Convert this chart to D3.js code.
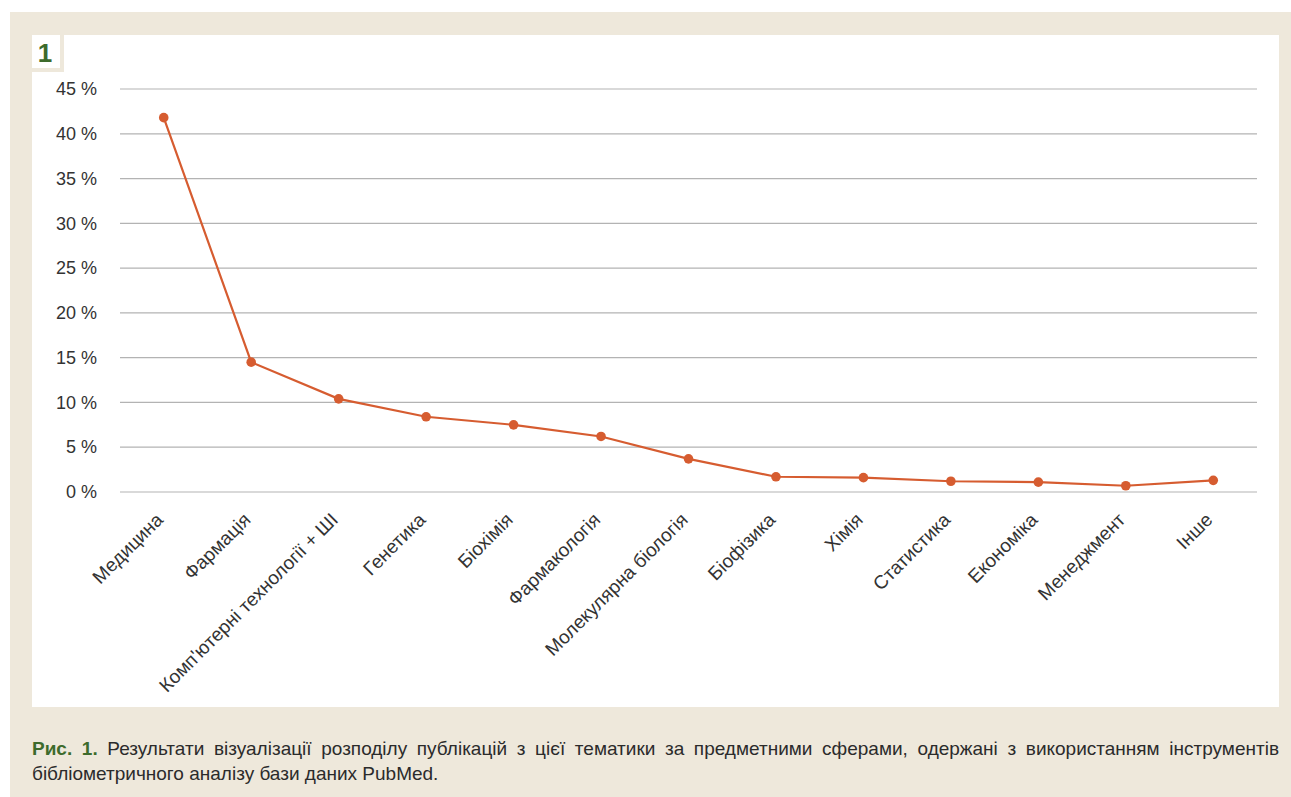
<!DOCTYPE html>
<html>
<head>
<meta charset="utf-8">
<script src="https://cdn.jsdelivr.net/npm/d3@7"></script>
<style>
  html, body { margin: 0; padding: 0; background: #ffffff; }
  #frame {
    position: absolute; left: 10px; top: 12px; width: 1281px; height: 785px;
    background: #eee8db;
  }
  .caption {
    position: absolute; left: 32px; width: 1247px;
    font-family: 'Liberation Sans', Arial, sans-serif;
    font-size: 19px; line-height: 25px; color: #2b2b2b;
    white-space: nowrap;
  }
  #cap1 { top: 736px; text-align: justify; text-align-last: justify; white-space: normal; }
  #cap2 { top: 761px; text-align: left; }
  .caption b { color: #3d6b2c; }
  svg { position: absolute; left: 0; top: 0; }
</style>
</head>
<body>
<div id="frame"></div>
<svg id="chart" width="1291" height="797"></svg>
<div class="caption" id="cap1"><b>Рис. 1.</b> Результати візуалізації розподілу публікацій з цієї тематики за предметними сферами, одержані з використанням інструментів</div>
<div class="caption" id="cap2">бібліометричного аналізу бази даних PubMed.</div>
<script>
// Share of publications by subject area, %
const categories = ["Медицина", "Фармація", "Комп'ютерні технології + ШІ", "Генетика", "Біохімія",
  "Фармакологія", "Молекулярна біологія", "Біофізика", "Хімія", "Статистика",
  "Економіка", "Менеджмент", "Інше"];
const shares = [41.8, 14.5, 10.4, 8.4, 7.5, 6.2, 3.7, 1.7, 1.6, 1.2, 1.1, 0.7, 1.3];
const yTicks = [0, 5, 10, 15, 20, 25, 30, 35, 40, 45];

const FONT = "'Liberation Sans', Arial, sans-serif";
const svg = d3.select("#chart");

// White panel with the separate number tab in its corner
svg.append("path")
  .attr("d", "M64,35 H1279 V707 H32 V72 H64 Z")
  .attr("fill", "#ffffff");
svg.append("rect").attr("x", 32).attr("y", 35).attr("width", 28).attr("height", 33).attr("fill", "#ffffff");
svg.append("text")
  .attr("x", 45).attr("y", 62)
  .attr("text-anchor", "middle")
  .style("font-family", FONT)
  .attr("font-weight", "bold").attr("font-size", 26)
  .attr("fill", "#3d6b2c")
  .text("1");

const x = d3.scalePoint().domain(categories).range([120, 1257]).padding(0.5);
const y = d3.scaleLinear().domain([0, 45]).range([492, 89]);

// Horizontal gridlines
svg.append("g")
  .selectAll("line")
  .data(yTicks)
  .join("line")
  .attr("x1", 120).attr("x2", 1257)
  .attr("y1", d => y(d)).attr("y2", d => y(d))
  .attr("stroke", "#b3b3b3").attr("stroke-width", 1.2);

// Y axis labels
const yAxis = svg.append("g")
  .attr("transform", "translate(97,0)")
  .call(d3.axisLeft(y).tickValues(yTicks).tickSize(0).tickPadding(0).tickFormat(d => d + " %"));
yAxis.select(".domain").remove();
yAxis.selectAll("text")
  .style("font-family", FONT)
  .attr("font-size", 18).attr("fill", "#333333");

// X axis labels, rotated
const xAxis = svg.append("g")
  .attr("transform", "translate(0,492)")
  .call(d3.axisBottom(x).tickSize(0).tickPadding(0));
xAxis.select(".domain").remove();
xAxis.selectAll("text")
  .style("font-family", FONT)
  .attr("font-size", 19).attr("fill", "#333333")
  .attr("text-anchor", "end")
  .attr("dy", 0)
  .attr("transform", "translate(0,29) rotate(-45)");

// Line and markers
const line = d3.line().x((d, i) => x(categories[i])).y(d => y(d));
svg.append("path")
  .datum(shares)
  .attr("d", line)
  .attr("fill", "none")
  .attr("stroke", "#d65c30")
  .attr("stroke-width", 2.2);

svg.append("g")
  .selectAll("circle")
  .data(shares)
  .join("circle")
  .attr("cx", (d, i) => x(categories[i]))
  .attr("cy", d => y(d))
  .attr("r", 4.8)
  .attr("fill", "#d65c30");
</script>
</body>
</html>
